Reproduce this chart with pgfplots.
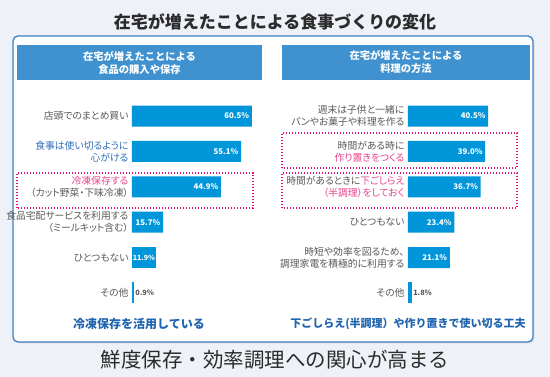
\documentclass[border=0pt]{standalone}
\usepackage{fontspec}
\setmainfont{Noto Sans CJK JP}
\newfontfamily\labfont{Noto Sans CJK JP}[RawFeature=+palt]
\usepackage{pgfplots}
\pgfplotsset{compat=1.18}
\definecolor{bg}{HTML}{EEF2F8}
\definecolor{frame}{HTML}{3E7FC1}
\definecolor{head}{HTML}{3F92CF}
\definecolor{barc}{HTML}{0096D9}
\definecolor{lab}{HTML}{595959}
\definecolor{blu}{HTML}{2F6EBA}
\definecolor{pnk}{HTML}{E8448D}
\definecolor{dot}{HTML}{E0107A}
\definecolor{foot}{HTML}{1F64B0}
\definecolor{ttl}{HTML}{2B2B2B}
\pgfplotsset{
  panel/.style={
    scale only axis, width=119.79pt, height=212.4pt,
    xmin=0, xmax=60.5, ymin=0.5, ymax=6.5, enlargelimits=false,
    axis line style={draw=none}, xtick=\empty, ytick={1,2,3,4,5,6},
    major tick length=0pt, clip=false,
    yticklabel style={align=right, font=\labfont\fontsize{9.8}{12}\selectfont, text=lab},
    xbar, bar width=21pt, bar shift=0pt,
    /pgf/number format/assume math mode=true,
    point meta=x,
    nodes near coords={\pgfmathprintnumber[fixed,fixed zerofill,precision=1]{\pgfplotspointmeta}\%},
  },
  inlab/.style={draw=none, fill=barc,
    every node near coord/.append style={anchor=east, inner sep=1pt, xshift=-1.5pt, text=white, font=\bfseries\fontsize{7.8}{9}\selectfont}},
  inlabsmall/.style={draw=none, fill=barc,
    every node near coord/.append style={anchor=east, inner sep=0.3pt, xshift=0pt, text=white, font=\bfseries\fontsize{7}{9}\selectfont}},
  outlab/.style={draw=none, fill=barc,
    every node near coord/.append style={anchor=west, inner sep=1.5pt, text=lab, font=\bfseries\fontsize{7.3}{9}\selectfont}},
}
\begin{document}
\begin{tikzpicture}
\useasboundingbox (0pt,0pt) rectangle (550pt,377pt);
\fill[bg] (0pt,0pt) rectangle (550pt,377pt);
\node[text=ttl, font=\bfseries\fontsize{17}{20}\selectfont] at (275pt,355pt) {在宅が増えたことによる食事づくりの変化};
\fill[black!12, rounded corners=5pt] (14.5pt,33.5pt) rectangle (534.5pt,339.5pt);
\draw[frame, fill=white, line width=1.3pt, rounded corners=5pt] (13pt,35pt) rectangle (533pt,341pt);
\fill[head] (17pt,297pt) rectangle (262pt,332pt);
\fill[head] (282pt,297pt) rectangle (530pt,332pt);
\node[text=white, align=center, font=\bfseries\fontsize{10.3}{13}\selectfont] at (139.5pt,314.5pt) {在宅が増えたことによる\\食品の購入や保存};
\node[text=white, align=center, font=\bfseries\fontsize{10.3}{13}\selectfont] at (406pt,314.5pt) {在宅が増えたことによる\\料理の方法};
\draw[dot, line width=1.4pt, dash pattern=on 1.4pt off 1.6pt] (17pt,169pt) rectangle (253pt,204pt);
\draw[dot, line width=1.4pt, dash pattern=on 1.4pt off 1.6pt] (282pt,209pt) rectangle (517pt,244pt);
\draw[dot, line width=1.4pt, dash pattern=on 1.4pt off 1.6pt] (282pt,169pt) rectangle (517pt,204pt);

\begin{axis}[panel, at={(132pt,66.3pt)}, anchor=south west,
  yticklabels={
    {その他},
    {ひとつもない},
    {食品宅配サービスを利用する\\（ミールキット含む）},
    {\textcolor{pnk}{冷凍保存する}\\（カット野菜・下味冷凍）},
    {\textcolor{blu}{食事は使い切るように}\\\textcolor{blu}{心がける}},
    {店頭でのまとめ買い}}]
\addplot[inlab] coordinates {(60.5,6) (55.1,5) (44.9,4) (15.7,3)};
\addplot[inlabsmall] coordinates {(11.9,2)};
\addplot[outlab] coordinates {(0.9,1)};
\end{axis}

\begin{axis}[panel, at={(408pt,66.3pt)}, anchor=south west,
  yticklabels={
    {その他},
    {時短や効率を図るため、\\調理家電を積極的に利用する},
    {ひとつもない},
    {時間があるときに\textcolor{pnk}{下ごしらえ}\\\textcolor{pnk}{（半調理）をしておく}},
    {時間がある時に\\\textcolor{pnk}{作り置きをつくる}},
    {週末は子供と一緒に\\パンやお菓子や料理を作る}}]
\addplot[inlab] coordinates {(40.5,6) (39.0,5) (36.7,4) (23.4,3) (21.1,2)};
\addplot[outlab] coordinates {(1.8,1)};
\end{axis}

\node[text=foot, font=\bfseries\fontsize{12}{14}\selectfont] at (139pt,53pt) {冷凍保存を活用している};
\node[text=foot, font=\bfseries\fontsize{11}{13}\selectfont] at (408pt,53pt) {下ごしらえ(半調理）や作り置きで使い切る工夫};
\node[text=ttl, font=\fontsize{20.5}{24}\selectfont] at (275pt,17pt) {鮮度保存・効率調理への関心が高まる};
\end{tikzpicture}
\end{document}
